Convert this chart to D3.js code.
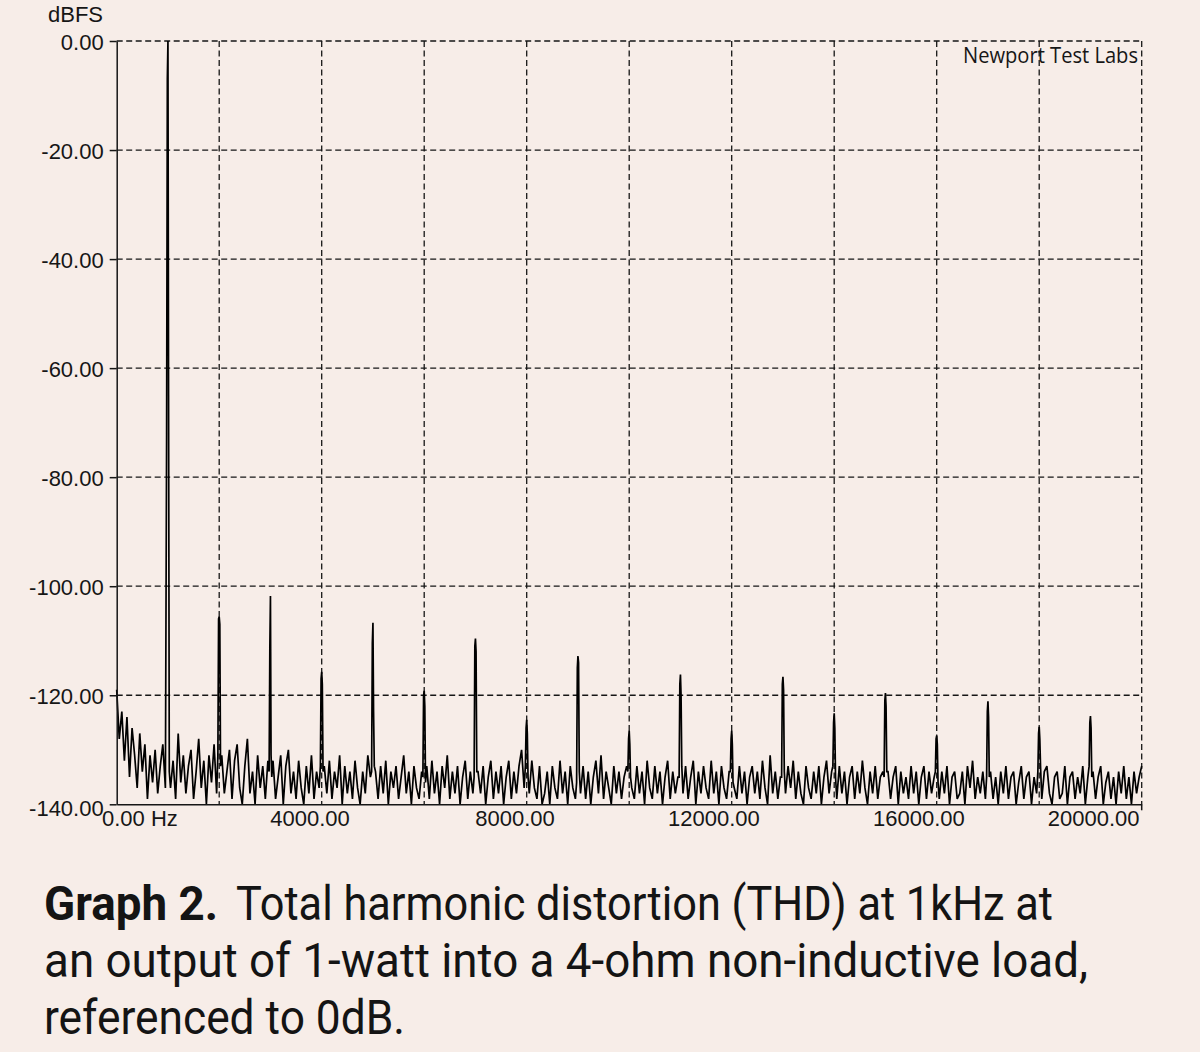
<!DOCTYPE html>
<html><head><meta charset="utf-8">
<script src="https://cdn.jsdelivr.net/npm/d3@7/dist/d3.min.js"></script>
<style>
html,body{margin:0;padding:0;background:#f7ede8;}
svg{display:block;}
</style>
</head><body>
<svg id="chart" width="1200" height="1052"></svg>
<script>
// ---------------- DATA ----------------
const yTickValues = [0, -20, -40, -60, -80, -100, -120, -140];
const xGridValues = [2000, 4000, 6000, 8000, 10000, 12000, 14000, 16000, 18000, 20000];
const xLabelValues = [0, 4000, 8000, 12000, 16000, 20000];
const yAxisTitle = "dBFS";
const watermark = "Newport Test Labs";
const captionBold = "Graph 2.";
const captionLine1 = "Total harmonic distortion (THD) at 1kHz at";
const captionLine2 = "an output of 1-watt into a 4-ohm non-inductive load,";
const captionLine3 = "referenced to 0dB.";

// noise floor, one value per 50 Hz from 0 to 20000 Hz
const noiseStepHz = 50;
const noiseFloor = [
 -119,-128,-123,-132,-124,-135,-126,-131,-137,-127,-134,-129,-139,-131,-136,-130,-138,-133,-129,-137,
 -136,-137,-132,-139,-127,-136,-131,-138,-133,-130,-139,-134,-128,-137,-132,-140,-131,-136,-129,-138,
 -133,-131,-138,-134,-130,-139,-132,-129,-137,-140,-133,-128,-138,-134,-140,-131,-137,-133,-139,-132,
 -134,-132,-139,-135,-131,-140,-133,-130,-138,-134,-139,-132,-137,-140,-133,-138,-131,-139,-134,-137,
 -134,-133,-138,-132,-139,-134,-137,-131,-140,-133,-138,-134,-139,-132,-137,-140,-134,-138,-131,-135,
 -135,-134,-139,-133,-138,-132,-140,-134,-137,-133,-139,-135,-131,-138,-134,-140,-133,-137,-139,-134,
 -135,-133,-139,-132,-138,-134,-140,-133,-137,-131,-139,-134,-138,-133,-140,-135,-132,-139,-134,-138,
 -135,-134,-138,-133,-140,-135,-132,-139,-134,-138,-133,-140,-135,-132,-139,-134,-138,-133,-130,-137,
 -134,-138,-132,-137,-139,-133,-140,-138,-134,-140,-133,-137,-139,-132,-138,-134,-140,-133,-137,-139,
 -135,-138,-133,-139,-134,-140,-135,-132,-138,-131,-139,-134,-137,-140,-133,-138,-134,-139,-135,-133,
 -133,-137,-139,-133,-138,-134,-140,-132,-137,-139,-133,-138,-134,-140,-135,-132,-139,-134,-138,-135,
 -134,-138,-133,-139,-135,-132,-140,-134,-138,-133,-137,-139,-132,-138,-134,-140,-133,-137,-139,-134,
 -134,-137,-139,-133,-138,-134,-140,-135,-133,-138,-134,-139,-132,-137,-140,-131,-138,-134,-139,-135,
 -134,-138,-133,-137,-132,-139,-134,-138,-140,-133,-137,-139,-134,-138,-133,-140,-135,-132,-138,-134,
 -135,-139,-133,-138,-134,-140,-135,-133,-139,-134,-138,-132,-137,-140,-134,-138,-133,-139,-135,-134,
 -136,-134,-139,-135,-133,-140,-134,-138,-135,-139,-133,-138,-134,-140,-135,-133,-139,-134,-138,-135,
 -135,-139,-134,-138,-133,-140,-135,-134,-139,-138,-134,-140,-133,-137,-132,-139,-135,-138,-134,-139,
 -136,-134,-139,-135,-140,-134,-138,-133,-139,-135,-134,-140,-136,-133,-139,-135,-134,-140,-135,-138,
 -135,-139,-134,-133,-138,-140,-135,-134,-139,-138,-133,-140,-135,-134,-139,-135,-138,-133,-140,-135,
 -136,-134,-139,-135,-133,-140,-136,-134,-139,-135,-140,-134,-138,-133,-139,-135,-140,-134,-138,-135,
 -133
];

// harmonic lines (fundamental + harmonics), levels in dBFS
const harmonicFreqs  = [1000,2000,3000,4000,5000,6000,7000,8000,9000,10000,11000,12000,13000,14000,15000,16000,17000,18000,19000];
const harmonicPeaks  = [0,-105.6,-101.8,-115.7,-106.7,-119.2,-109.6,-124.5,-112.8,-126.5,-116.2,-126.5,-116.6,-123.3,-119.6,-127.4,-121.1,-125.8,-123.8];
const harmonicLeft   = [-7,-106,-111.4,-117,-110.5,-120,-111,-126,-115,-128,-118,-128,-118,-125,-121,-128,-123,-127,-125];
const harmonicRight  = [-65,-107,-131,-118,-123,-122,-112,-127,-114,-129,-120,-129,-119,-126,-122,-129,-124,-128,-126];
const harmonicBaseL  = [-72,-131,-134,-133,-134,-135,-135,-133,-136,-134,-135,-134,-135,-133,-135,-134,-135,-134,-133];
const harmonicBaseR  = [-134,-133,-135,-134,-133,-136,-134,-135,-134,-135,-133,-136,-134,-135,-134,-136,-135,-133,-135];

// ---------------- CHART ----------------
const svg = d3.select("#chart");
const W = 1200, H = 1052;
svg.append("rect").attr("width", W).attr("height", H).attr("fill", "#f7ede8");

const x = d3.scaleLinear().domain([0, 20000]).range([116.7, 1141.7]);
const y = d3.scaleLinear().domain([-140, 0]).range([804.3, 41]);

const axisFont = "'Liberation Sans', Arial, sans-serif";
const ink = "#161616";

// grid
const grid = svg.append("g");
grid.selectAll("line.h").data(yTickValues.filter(v => v > -140)).join("line")
  .attr("x1", x(0)).attr("x2", x(20000))
  .attr("y1", d => y(d)).attr("y2", d => y(d))
  .attr("stroke", ink).attr("stroke-width", 1.3).attr("stroke-dasharray", "6,3.5");
grid.selectAll("line.v").data(xGridValues).join("line")
  .attr("x1", d => x(d)).attr("x2", d => x(d))
  .attr("y1", y(0)).attr("y2", y(-140))
  .attr("stroke", ink).attr("stroke-width", 1.3).attr("stroke-dasharray", "6,3.5");

// spectrum points
const pts = [];
noiseFloor.forEach((v, i) => {
  const f = i * noiseStepHz;
  const h = harmonicFreqs.indexOf(f);
  if (h >= 0) {
    pts.push([f - 26, harmonicBaseL[h]]);
    pts.push([f - 12, harmonicLeft[h]]);
    pts.push([f, harmonicPeaks[h]]);
    pts.push([f + 12, harmonicRight[h]]);
    pts.push([f + 26, harmonicBaseR[h]]);
  } else {
    pts.push([f, v]);
  }
});
const line = d3.line().x(d => x(d[0])).y(d => y(Math.max(-140, d[1])));
svg.append("path").datum(pts)
  .attr("d", line)
  .attr("fill", "none").attr("stroke", "#000").attr("stroke-width", 1.7)
  .attr("stroke-linejoin", "miter").attr("stroke-miterlimit", 3);

// y axis
const yAxis = d3.axisLeft(y).tickValues(yTickValues).tickSize(7).tickSizeOuter(0)
  .tickPadding(6).tickFormat(d => d.toFixed(2));
const gy = svg.append("g").attr("transform", `translate(${x(0)},0)`).call(yAxis);
gy.select(".domain").attr("stroke", ink).attr("stroke-width", 1.5);
gy.selectAll(".tick line").attr("stroke", ink).attr("stroke-width", 1.5);
gy.selectAll(".tick text")
  .attr("font-family", axisFont).attr("font-size", 22).attr("fill", ink)
  .attr("dy", d => d === -140 ? "0.5em" : "0.39em")
  .attr("x", -13);

// x axis
const xAxis = d3.axisBottom(x).tickValues(xLabelValues).tickSize(0).tickSizeOuter(0).tickFormat("");
const gx = svg.append("g").attr("transform", `translate(0,${y(-140)})`).call(xAxis);
gx.select(".domain").attr("stroke", ink).attr("stroke-width", 1.5);
gx.selectAll(".tick text").remove();
gx.selectAll(".tick").each(function(d) {
  const g = d3.select(this);
  const intPart = String(Math.round(d));
  const frac = d === 0 ? ".00 Hz" : ".00";
  const t1 = g.append("text").attr("x", -3).attr("y", 21.7).attr("text-anchor", "end")
    .attr("font-family", axisFont).attr("font-size", 22).attr("fill", ink).text(intPart);
  const t2 = g.append("text").attr("x", -3).attr("y", 21.7).attr("text-anchor", "start")
    .attr("font-family", axisFont).attr("font-size", 22).attr("fill", ink).text(frac);
  const gxPos = x(d);
  const endX = gxPos - 3 + t2.node().getComputedTextLength();
  if (endX > 1139) {
    const shift = 1139 - endX;
    t1.attr("x", -3 + shift); t2.attr("x", -3 + shift);
  }
});
// right end tick
svg.append("line").attr("x1", x(20000)).attr("x2", x(20000))
  .attr("y1", y(-140)).attr("y2", y(-140) + 6).attr("stroke", ink).attr("stroke-width", 1.5);

// y axis title
svg.append("text").attr("x", 103).attr("y", 22).attr("text-anchor", "end")
  .attr("font-family", axisFont).attr("font-size", 22).attr("fill", ink).text(yAxisTitle);

// watermark
svg.append("text").attr("x", 963).attr("y", 63)
  .attr("font-family", "'Open Sans', 'Noto Sans', sans-serif").attr("font-size", 21)
  .attr("fill", ink).attr("textLength", 175).attr("lengthAdjust", "spacingAndGlyphs")
  .text(watermark);

// caption
const capFont = "Roboto, 'Open Sans', sans-serif";
const capSize = 48;
const capInk = "#141414";
svg.append("text").attr("x", 44).attr("y", 920).attr("font-family", capFont)
  .attr("font-size", capSize).attr("font-weight", 700).attr("fill", capInk)
  .attr("textLength", 174).attr("lengthAdjust", "spacingAndGlyphs").text(captionBold);
svg.append("text").attr("x", 236).attr("y", 920).attr("font-family", capFont)
  .attr("font-size", capSize).attr("fill", capInk)
  .attr("textLength", 817).attr("lengthAdjust", "spacingAndGlyphs").text(captionLine1);
svg.append("text").attr("x", 44).attr("y", 977).attr("font-family", capFont)
  .attr("font-size", capSize).attr("fill", capInk)
  .attr("textLength", 1044).attr("lengthAdjust", "spacingAndGlyphs").text(captionLine2);
svg.append("text").attr("x", 44).attr("y", 1034).attr("font-family", capFont)
  .attr("font-size", capSize).attr("fill", capInk)
  .attr("textLength", 361).attr("lengthAdjust", "spacingAndGlyphs").text(captionLine3);
</script>
</body></html>
